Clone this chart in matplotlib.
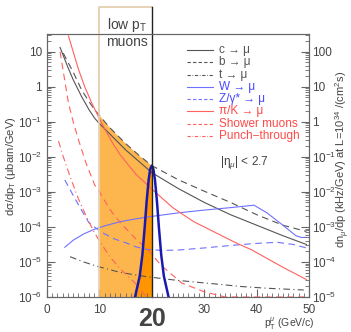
import matplotlib
matplotlib.use('Agg')
import matplotlib.pyplot as plt
import matplotlib.transforms as mtransforms
from matplotlib.ticker import FuncFormatter, LogLocator, MultipleLocator
import numpy as np

plt.rcParams['font.family'] = ['Liberation Sans', 'DejaVu Sans']
plt.rcParams['mathtext.fontset'] = 'custom'
plt.rcParams['mathtext.rm'] = 'Liberation Sans'
plt.rcParams['mathtext.it'] = 'Liberation Sans:italic'

# curves: pT (GeV/c) and log10 of dsigma/dpT (ubarn/GeV)
c_x = [2.5, 4, 5, 6.6, 8, 9.1, 10, 11, 12, 15, 20, 25, 30, 35, 40, 45, 49.5]
c_log = [1.12, 0.55, 0.2, -0.28, -0.65, -0.9, -1.05, -1.2, -1.35, -1.8, -2.45, -2.9, -3.3, -3.65, -3.95, -4.25, -4.5]

b_x = [3.1, 4, 5, 6.6, 8, 9.1, 10, 12, 15, 17.5, 20, 25, 30, 35, 40, 45, 49.5]
b_log = [0.96, 0.7, 0.42, -0.09, -0.42, -0.66, -0.82, -1.17, -1.62, -1.95, -2.25, -2.65, -2.98, -3.3, -3.65, -3.95, -4.13]

t_x = [4.4, 7, 9.5, 14, 19, 24, 28, 33, 37, 42, 49]
t_log = [-4.85, -5.0, -5.12, -5.3, -5.42, -5.51, -5.57, -5.64, -5.7, -5.75, -5.8]

w_x = [3.4, 5, 7, 9, 11, 14, 17, 20, 25, 30, 35, 39.5, 42, 45, 47.5, 48.5, 49.5]
w_log = [-4.58, -4.38, -4.2, -4.07, -3.97, -3.85, -3.77, -3.7, -3.6, -3.52, -3.45, -3.38, -3.6, -3.95, -4.25, -4.3, -4.3]

z_x = [3.4, 5, 6.5, 8, 9, 11, 13, 15, 17, 19, 22, 25, 30, 35, 40, 44, 47, 49.5]
z_log = [-2.66, -3.1, -3.5, -3.88, -4.0, -4.2, -4.35, -4.45, -4.57, -4.64, -4.67, -4.66, -4.6, -4.53, -4.47, -4.44, -4.5, -4.6]

pik_x = [4.1, 5, 6, 7.2, 8.5, 9.8, 11, 12.5, 14, 17, 20, 24, 28, 32, 36, 39, 45, 49.5]
pik_log = [1.45, 1.0, 0.5, 0.0, -0.45, -0.85, -1.2, -1.6, -1.95, -2.5, -2.92, -3.45, -3.85, -4.15, -4.45, -4.65, -5.15, -5.5]

shower_x = [2.5, 3.2, 4.1, 5, 6, 7.5, 9.1, 10, 12, 14, 17, 19.3, 21.8, 25.7, 30, 34, 40, 49.5]
shower_log = [1.0, 0.35, -0.47, -1.0, -1.51, -2.2, -2.8, -3.0, -3.5, -3.88, -4.35, -4.66, -5.1, -5.6, -5.85, -6.0, -6.3, -6.8]

punch_x = [2.2, 3, 4.4, 6, 7.5, 9, 10, 12, 14, 16.8, 19]
punch_log = [-1.55, -1.95, -2.56, -3.2, -3.7, -4.15, -4.4, -4.85, -5.2, -5.6, -6.0]

# low-pT muon peak around 20 GeV
peak_x = [16.8, 17.7, 18.2, 18.65, 19.0, 19.4, 19.7, 20.0, 20.3, 20.6, 21.0, 21.35, 21.8, 22.3, 23.2]
peak_log = [-6.0, -5.4, -4.8, -4.0, -3.3, -2.65, -2.35, -2.25, -2.35, -2.65, -3.3, -4.0, -4.8, -5.4, -6.0]

legend_labels = ['c → μ', 'b → μ', 't → μ', 'W → μ', 'Z/γ* → μ', 'π/K → μ', 'Shower muons', 'Punch−through']
left_ticks = [1e-6, 1e-5, 1e-4, 1e-3, 1e-2, 1e-1, 1, 10]
right_ticks = [1e-5, 1e-4, 1e-3, 1e-2, 1e-1, 1, 10, 100]
x_ticks = [0, 10, 30, 40, 50]

ymin, ymax = 1e-6, 32.0

fig = plt.figure(figsize=(3.51, 3.32), dpi=100)
ax = fig.add_axes([0.1339, 0.1054, 0.7464, 0.7922])
ax.set_yscale('log')
ax.set_xlim(0, 50)
ax.set_ylim(ymin, ymax)

def vals(v):
    return np.maximum(10.0 ** np.array(v), ymin)

# shaded low pT region under b->mu
bx = np.array(b_x)
by = vals(b_log)
m = (bx >= 10) & (bx <= 20)
ax.fill_between(bx[m], ymin, by[m], color='#fdb64e', lw=0, zorder=1)
px_ = np.array(peak_x)
py_ = vals(peak_log)
m2 = px_ <= 20
ax.fill_between(px_[m2], ymin, py_[m2], color='#ff9500', lw=0, zorder=1.5)

blk = '#555555'
blue = '#7070ff'
red = '#ff6060'
dash = (0, (6, 4))
dashdot = (0, (6, 3, 1, 3))
ax.plot(c_x, vals(c_log), color=blk, lw=0.8, zorder=3)
ax.plot(b_x, vals(b_log), color=blk, lw=0.8, ls=dash, zorder=3)
ax.plot(t_x, vals(t_log), color=blk, lw=0.8, ls=dashdot, zorder=3)
ax.plot(w_x, vals(w_log), color=blue, lw=0.8, zorder=3)
ax.plot(z_x, vals(z_log), color=blue, lw=0.8, ls=dash, zorder=3)
ax.plot(pik_x, vals(pik_log), color=red, lw=0.8, zorder=3)
ax.plot(shower_x, vals(shower_log), color=red, lw=0.8, ls=dash, zorder=3)
ax.plot(punch_x, vals(punch_log), color=red, lw=0.8, ls=dashdot, zorder=3)
ax.plot(peak_x, vals(peak_log), color='#1a1ab0', lw=1.8, zorder=4)

# box marking the low pT muons
tr = mtransforms.blended_transform_factory(ax.transData, ax.transAxes)
ax.plot([10, 10, 20], [0, 1.103, 1.103], color='#e2cbaa', lw=1.2, transform=tr, clip_on=False, zorder=5)
ax.plot([20, 20], [0, 1.103], color='#222222', lw=1.0, transform=tr, clip_on=False, zorder=5)
ax.text(15.3, 1.036, 'low p$_\\mathrm{T}$', transform=tr, ha='center', va='center', fontsize=10, color='#444444')
ax.text(15.3, 0.968, 'muons', transform=tr, ha='center', va='center', fontsize=10, color='#444444')

# legend drawn entry by entry
line_cols = [blk, blk, blk, blue, blue, red, red, red]
text_cols = [blk, blk, blk, '#4848ff', '#4848ff', '#ff4848', '#ff4848', '#ff4848']
styles = ['-', (0, (3, 2)), (0, (3, 1.5, 0.6, 1.5)), '-', (0, (3, 2)), '-', (0, (3, 2)), (0, (3, 1.5, 0.6, 1.5))]
for i, lab in enumerate(legend_labels):
    yy = 0.939 - i * 0.0467
    ax.plot([0.534, 0.634], [yy, yy], transform=ax.transAxes, color=line_cols[i], lw=0.8, ls=styles[i], zorder=6)
    ax.text(0.656, yy, lab, transform=ax.transAxes, color=text_cols[i], fontsize=8.5, va='center', ha='left')
ax.text(0.66, 0.51, '|η$_\\mu$| < 2.7', transform=ax.transAxes, color='#444444', fontsize=8.5, va='center')

def logfmt(v, pos):
    e = int(round(np.log10(v)))
    if e == 0:
        return '1'
    if e == 1:
        return '10'
    if e == 2:
        return '100'
    return '10$^{%d}$' % e

axc = '#666666'
for s in ax.spines.values():
    s.set_color(axc)
ax.set_yticks(left_ticks)
ax.yaxis.set_minor_locator(LogLocator(base=10, subs=np.arange(2, 10), numticks=20))
ax.yaxis.set_major_formatter(FuncFormatter(logfmt))
ax.set_xticks(x_ticks)
ax.xaxis.set_minor_locator(MultipleLocator(1))
ax.tick_params(which='both', direction='in', colors=axc, labelcolor='#444444', labelsize=8.5, top=False, right=False)
ax.tick_params(which='major', length=6)
ax.tick_params(which='minor', length=3)
ax.tick_params(axis='x', pad=5)
ax.set_ylim(ymin, ymax)

ax2 = ax.twinx()
ax2.set_yscale('log')
ax2.set_yticks(right_ticks)
ax2.set_ylim(ymin * 10, ymax * 10)
ax2.yaxis.set_minor_locator(LogLocator(base=10, subs=np.arange(2, 10), numticks=20))
ax2.yaxis.set_major_formatter(FuncFormatter(logfmt))
ax2.tick_params(which='both', direction='in', colors=axc, labelcolor='#444444', labelsize=8.5, pad=2)
ax2.tick_params(which='major', length=6)
ax2.tick_params(which='minor', length=3)
for s in ax2.spines.values():
    s.set_color(axc)

ax.text(20, -0.084, '20', transform=tr, ha='center', va='center', fontsize=18, fontweight='bold', color='#444444')
ax.text(1.02, -0.1, 'p$_\\mathrm{T}^{\\mu}$ (GeV/c)', transform=ax.transAxes, ha='right', va='center', fontsize=7.5, color='#444444')
fig.text(0.03, 0.5, 'dσ/dp$_\\mathrm{T}$ (μbarn/GeV)', rotation=90, ha='center', va='center', fontsize=8, color='#444444')
fig.text(0.977, 0.52, 'dn$_\\mu$/dp (kHz/GeV) at L=10$^{34}$ /(cm$^{2}$s)', rotation=90, ha='center', va='center', fontsize=8, color='#444444')

fig.savefig('out.png', dpi=100)
